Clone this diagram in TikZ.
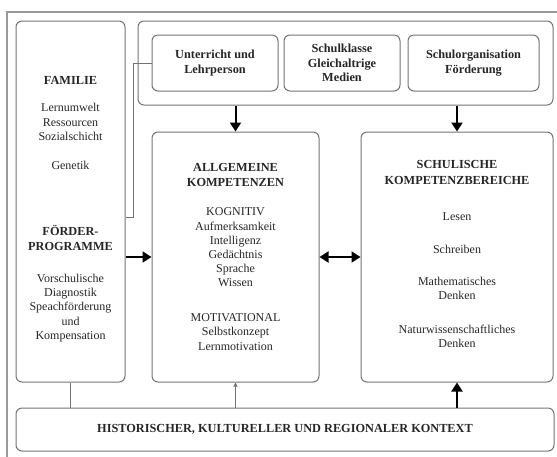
\documentclass[tikz,border=0pt]{standalone}
\usepackage{fontspec}
\setmainfont{Liberation Serif}
\usetikzlibrary{arrows.meta, positioning, calc}

\begin{document}
\begin{tikzpicture}[
    x=1pt, y=-1pt,
    box/.style={draw=black!55, line width=1pt, rounded corners=6pt, inner sep=0pt, align=center, font=\bfseries\fontsize{12.3}{14.5}\selectfont, text=black!85},
    lbl/.style={font=\fontsize{12}{14.2}\selectfont, align=center, inner sep=0pt, text=black!85},
    head/.style={font=\bfseries\fontsize{12.3}{15.5}\selectfont, align=center, inner sep=0pt, text=black!85},
    line/.style={draw=black!55, line width=1pt},
    arrow/.style={-{Triangle[length=9pt,width=11pt]}, line width=2pt},
    dblarrow/.style={{Triangle[length=9pt,width=11pt]}-{Triangle[length=9pt,width=11pt]}, line width=2pt}
]
    \useasboundingbox (0,0) rectangle (557,456);
    % Rahmen
    \draw[black!40, line width=1.2pt] (7,12) rectangle (575,475);

    % Kaesten
    \node[box, minimum width=109pt, minimum height=361pt] (familie) at (70.5,201.5) {};
    \node[box, minimum width=415pt, minimum height=84pt] (umfeld) at (345.5,63) {};
    \node[box, minimum width=126pt, minimum height=56pt] (unterricht) at (215,63) {Unterricht und\\Lehrperson};
    \node[box, minimum width=116pt, minimum height=56pt] (klasse) at (342,63) {Schulklasse\\Gleichaltrige\\Medien};
    \node[box, minimum width=131pt, minimum height=56pt] (organisation) at (473.5,63) {Schulorganisation\\Förderung};
    \node[box, minimum width=167pt, minimum height=250pt] (allgemein) at (235.5,257) {};
    \node[box, minimum width=192pt, minimum height=250pt] (schulisch) at (457,257) {};
    \node[box, minimum width=538pt, minimum height=43pt] (kontext) at (285,429.5) {HISTORISCHER, KULTURELLER UND REGIONALER KONTEXT};

    % Familie
    \node[head] (famtitel) at (70.5,80) {FAMILIE};
    \node[lbl] (famliste) at (70.5,122) {Lernumwelt\\Ressourcen\\Sozialschicht};
    \node[lbl] (genetik) at (70.5,165) {Genetik};
    \node[head] (foerdertitel) at (70.5,238) {FÖRDER-\\PROGRAMME};
    \node[lbl] (foerderliste) at (70.5,308) {Vorschulische\\Diagnostik\\Speachförderung\\und\\Kompensation};

    % Allgemeine Kompetenzen
    \node[head] (allgtitel) at (235.5,175) {ALLGEMEINE\\KOMPETENZEN};
    \node[lbl] (kognitiv) at (235.5,247.5) {KOGNITIV\\Aufmerksamkeit\\Intelligenz\\Gedächtnis\\Sprache\\Wissen};
    \node[lbl] (motivational) at (235.5,332) {MOTIVATIONAL\\Selbstkonzept\\Lernmotivation};

    % Schulische Kompetenzbereiche
    \node[head] (schultitel) at (457,172.5) {SCHULISCHE\\KOMPETENZBEREICHE};
    \node[lbl] (lesen) at (457,217) {Lesen};
    \node[lbl] (schreiben) at (457,249) {Schreiben};
    \node[lbl] (mathe) at (457,288.5) {Mathematisches\\Denken};
    \node[lbl] (natur) at (457,336) {Naturwissenschaftliches\\Denken};

    % Verbindungen
    \coordinate (knick) at (133,217);
    \draw[line] (unterricht.west) -| (knick) -- (knick -| familie.east);
    \draw[arrow] (umfeld.south -| allgemein.north) -- (allgemein.north);
    \draw[arrow] (umfeld.south -| schulisch.north) -- (schulisch.north);
    \draw[arrow] (familie.east |- allgemein.west) -- (allgemein.west);
    \draw[dblarrow] (allgemein.east) -- (schulisch.west);
    \draw[line] (kontext.north -| familie.south) -- (familie.south);
    \draw[line, -{Triangle[length=4pt,width=4pt]}] (kontext.north -| allgemein.south) -- (allgemein.south);
    \draw[arrow] (kontext.north -| schulisch.south) -- (schulisch.south);
\end{tikzpicture}
\end{document}
